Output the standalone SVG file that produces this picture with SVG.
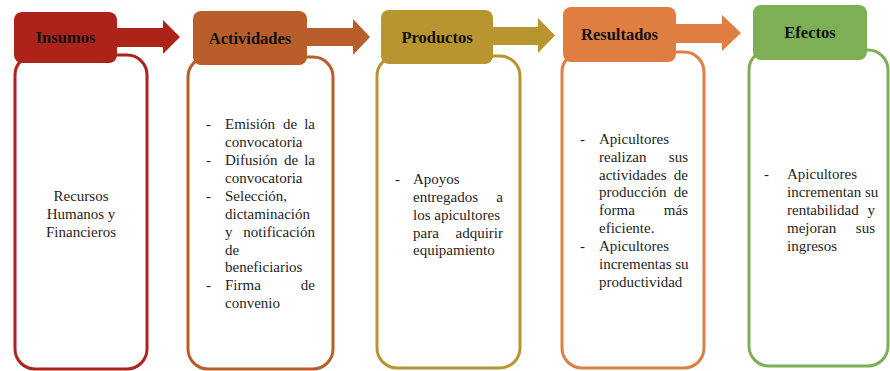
<svg xmlns="http://www.w3.org/2000/svg" width="890" height="371" viewBox="0 0 890 371">
<style>
.body{fill:#fff;stroke-width:3}
.hd{font-family:'Liberation Serif','DejaVu Serif',serif;font-size:16.5px;font-weight:bold;fill:#111;text-anchor:middle}
.t{font-family:'Liberation Serif','DejaVu Serif',serif;font-size:15px;fill:#1e1e1e}
.m{text-anchor:middle}
.e{text-anchor:end}
</style>
<rect width="890" height="371" fill="#fff"/>
<g id="connectors">
<polygon fill="#AD231A" points="117,28 163,28 163,20 180,37 163,54 163,47 117,47"/>
<polygon fill="#B75E2B" points="307,28 353,28 353,19 370,37 353,55 353,46 307,46"/>
<polygon fill="#B9952F" points="493,27 538,27 538,18 555,35.5 538,53 538,45 493,45"/>
<polygon fill="#E07E42" points="676,24 722,24 722,15 741,33 722,51 722,43 676,43"/>
</g>
<g id="insumos">
<rect class="body" x="15" y="55" width="132" height="314" rx="20" stroke="#AD231A"/>
<rect x="14" y="12" width="103" height="51" rx="8" fill="#AD231A"/>
<text class="hd" x="65.5" y="43">Insumos</text>
<text class="t m" x="81" y="201">Recursos</text>
<text class="t m" x="81" y="219">Humanos y</text>
<text class="t m" x="81" y="237">Financieros</text>
</g>
<g id="actividades">
<rect class="body" x="188" y="57" width="145" height="312" rx="20" stroke="#B75E2B"/>
<rect x="193" y="11" width="114" height="54" rx="8" fill="#B75E2B"/>
<text class="hd" x="250" y="44">Actividades</text>
<text class="t" x="206" y="129">-</text>
<text class="t" x="225" y="129">Emisión</text><text class="t m" x="290" y="129">de</text><text class="t e" x="315" y="129">la</text>
<text class="t" x="225" y="147">convocatoria</text>
<text class="t" x="206" y="165">-</text>
<text class="t" x="225" y="165">Difusión</text><text class="t m" x="291" y="165">de</text><text class="t e" x="315" y="165">la</text>
<text class="t" x="225" y="183">convocatoria</text>
<text class="t" x="206" y="201">-</text>
<text class="t" x="225" y="201">Selección,</text>
<text class="t" x="225" y="219">dictaminación</text>
<text class="t" x="225" y="237">y</text><text class="t e" x="315" y="237">notificación</text>
<text class="t" x="225" y="255">de</text>
<text class="t" x="225" y="272">beneficiarios</text>
<text class="t" x="206" y="290">-</text>
<text class="t" x="225" y="290">Firma</text><text class="t e" x="315" y="290">de</text>
<text class="t" x="225" y="308">convenio</text>
</g>
<g id="productos">
<rect class="body" x="377" y="56" width="143" height="312" rx="20" stroke="#B9952F"/>
<rect x="381" y="10" width="112" height="54" rx="8" fill="#B9952F"/>
<text class="hd" x="437" y="43">Productos</text>
<text class="t" x="395" y="184">-</text>
<text class="t" x="413" y="184">Apoyos</text>
<text class="t" x="413" y="202">entregados</text><text class="t e" x="503" y="202">a</text>
<text class="t" x="413" y="220">los apicultores</text>
<text class="t" x="413" y="238">para</text><text class="t e" x="503" y="238">adquirir</text>
<text class="t" x="413" y="255">equipamiento</text>
</g>
<g id="resultados">
<rect class="body" x="562" y="52" width="142" height="316" rx="20" stroke="#E07E42"/>
<rect x="563" y="7" width="113" height="55" rx="8" fill="#E07E42"/>
<text class="hd" x="619.5" y="40">Resultados</text>
<text class="t" x="580" y="144">-</text>
<text class="t" x="599" y="144">Apicultores</text>
<text class="t" x="599" y="162">realizan</text><text class="t e" x="688" y="162">sus</text>
<text class="t" x="599" y="180">actividades</text><text class="t e" x="688" y="180">de</text>
<text class="t" x="599" y="197">producción</text><text class="t e" x="688" y="197">de</text>
<text class="t" x="599" y="215">forma</text><text class="t e" x="688" y="215">más</text>
<text class="t" x="599" y="233">eficiente.</text>
<text class="t" x="580" y="251">-</text>
<text class="t" x="599" y="251">Apicultores</text>
<text class="t" x="599" y="269">incrementas su</text>
<text class="t" x="599" y="287">productividad</text>
</g>
<g id="efectos">
<rect class="body" x="749" y="50" width="139" height="316" rx="20" stroke="#7DAF55"/>
<rect x="753" y="5" width="114" height="55" rx="8" fill="#7DAF55"/>
<text class="hd" x="810" y="38">Efectos</text>
<text class="t" x="764" y="179">-</text>
<text class="t" x="787" y="179">Apicultores</text>
<text class="t" x="787" y="197">incrementan su</text>
<text class="t" x="787" y="215">rentabilidad</text><text class="t e" x="875" y="215">y</text>
<text class="t" x="787" y="233">mejoran</text><text class="t e" x="875" y="233">sus</text>
<text class="t" x="787" y="251">ingresos</text>
</g>
</svg>
